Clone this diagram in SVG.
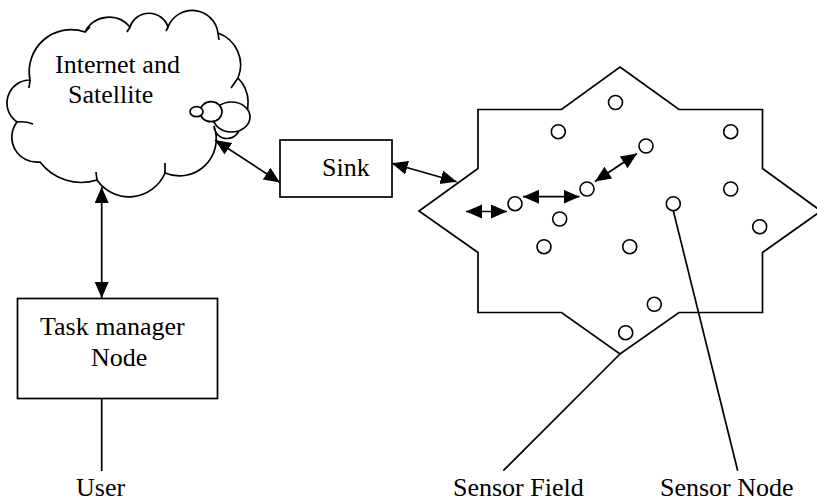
<svg xmlns="http://www.w3.org/2000/svg" width="817" height="501" viewBox="0 0 817 501">
<style>
.s{fill:none;stroke:#000;stroke-width:1.7}
.w{fill:#fff;stroke:#000;stroke-width:1.7}
.t{font-family:"Liberation Serif","Times New Roman",serif;font-size:26px;fill:#000}
.c{fill:#fff;stroke:#000;stroke-width:1.6}
.a{fill:none;stroke:#000;stroke-width:1.7;marker-start:url(#ah);marker-end:url(#ah)}
</style>
<defs>
<marker id="ah" markerUnits="userSpaceOnUse" markerWidth="18" markerHeight="16" refX="16" refY="7" orient="auto-start-reverse">
<path d="M0,0 L16,7 L0,14 z" fill="#000"/>
</marker>
</defs>
<rect width="817" height="501" fill="#fff"/>
<g id="cloud">
<path class="w" d="M30,80 A42,42 0 0 1 85,32 A27,27 0 0 1 130,27 A20,20 0 0 1 168,27 A26,26 0 0 1 218,33 A34,34 0 0 1 238,78 A35,35 0 0 1 240,125 A13,13 0 0 1 214,126 A37,37 0 0 1 165,173 A39,39 0 0 1 97,180 A52,52 0 0 1 40,162 A25,25 0 0 1 17,122 A23,23 0 0 1 30,80 Z"/>
<path class="s" d="M17,122 Q25,121 33,124 M30,80 L29,88 M85,32 L90,27 M130,27 L127,32 M168,27 L166,31 M218,33 L219,40 M238,78 L231,88 M165,173 L165,163 M97,180 L96,172"/>
<ellipse class="w" cx="231.5" cy="117" rx="18.5" ry="15"/>
<ellipse class="w" cx="211" cy="111.7" rx="11" ry="10"/>
<ellipse class="w" cx="196.5" cy="111.7" rx="6.5" ry="5"/>
<text class="t" x="55" y="73">Internet and</text>
<text class="t" x="68" y="103">Satellite</text>
</g>
<g id="sink">
<rect class="w" x="280" y="140" width="112" height="57"/>
<text class="t" x="322" y="176">Sink</text>
</g>
<g id="task-manager">
<rect class="w" x="17.5" y="298.5" width="200" height="100"/>
<text class="t" x="40" y="335">Task manager</text>
<text class="t" x="91" y="366">Node</text>
</g>
<g id="sensor-field">
<polygon class="w" points="620,67 679,109.5 762.5,109.5 762.5,168.5 821,211 762.5,252.5 762.5,312.5 679,312.5 620,354 561.5,312.5 478,312.5 478,252.5 419,211 478,168.5 478,109.5 561.5,109.5"/>
<circle class="c" cx="615.5" cy="102.5" r="7"/>
<circle class="c" cx="558.3" cy="131.7" r="7"/>
<circle class="c" cx="730.7" cy="131.7" r="7"/>
<circle class="c" cx="646" cy="146" r="7"/>
<circle class="c" cx="730.7" cy="189" r="7"/>
<circle class="c" cx="587" cy="189" r="7"/>
<circle class="c" cx="515" cy="203.7" r="7"/>
<circle class="c" cx="673.3" cy="203.7" r="7"/>
<circle class="c" cx="559.7" cy="219" r="7"/>
<circle class="c" cx="759.7" cy="226.7" r="7"/>
<circle class="c" cx="544" cy="246.7" r="7"/>
<circle class="c" cx="629.7" cy="246.7" r="7"/>
<circle class="c" cx="654.3" cy="304.3" r="7"/>
<circle class="c" cx="625.7" cy="332.7" r="7"/>
</g>
<g id="labels">
<text class="t" x="76" y="496">User</text>
<text class="t" x="453" y="496">Sensor Field</text>
<text class="t" x="660" y="496">Sensor Node</text>
</g>
<g id="connectors">
<line class="a" x1="101.7" y1="187" x2="101.7" y2="298"/>
<line class="a" x1="215" y1="140" x2="280" y2="182.5"/>
<line class="a" x1="391.7" y1="163.3" x2="456.7" y2="181.7"/>
<line class="a" x1="466" y1="211.5" x2="507" y2="211.5"/>
<line class="a" x1="523" y1="196.7" x2="579.5" y2="196.7"/>
<line class="a" x1="595" y1="181.5" x2="637" y2="153.5"/>
<line class="s" x1="101.7" y1="398.5" x2="101.7" y2="471"/>
<line class="s" x1="620" y1="354" x2="503.3" y2="470.7"/>
<line class="s" x1="673.3" y1="210.7" x2="737.7" y2="470.7"/>
</g>
</svg>
